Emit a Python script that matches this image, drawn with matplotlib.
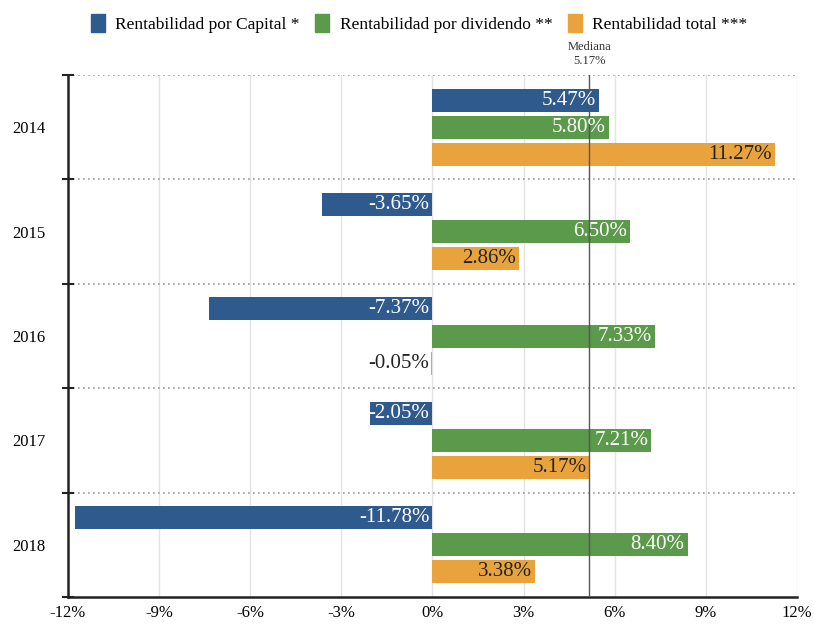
import matplotlib
matplotlib.use("Agg")
import matplotlib.pyplot as plt
import numpy as np
from matplotlib.patches import Patch
from matplotlib.ticker import FixedLocator

plt.rcParams['font.family'] = ['Liberation Serif', 'DejaVu Serif']

years = ["2014", "2015", "2016", "2017", "2018"]
capital = [5.47, -3.65, -7.37, -2.05, -11.78]
dividendo = [5.80, 6.50, 7.33, 7.21, 8.40]
total = [11.27, 2.86, -0.05, 5.17, 3.38]
series_names = ["Rentabilidad por Capital *", "Rentabilidad por dividendo **", "Rentabilidad total ***"]
colors = ["#2E5A8E", "#5B9A4A", "#E9A33C"]
label_colors = ["white", "white", "#222222"]
mediana = 5.17
xticks = [-12, -9, -6, -3, 0, 3, 6, 9, 12]

fig = plt.figure(figsize=(8.14, 6.26), dpi=100)
ax = fig.add_axes([0.0835, 0.0463, 0.8955, 0.8337])

y = np.arange(len(years))
h = 0.22
step = 0.26
for i, (vals, col, lc, name) in enumerate(zip([capital, dividendo, total], colors, label_colors, series_names)):
    pos = y + (i - 1) * step
    ax.barh(pos, vals, height=h, color=col, label=name, zorder=3)
    for p, v in zip(pos, vals):
        xr = max(v, 0)
        ax.text(xr - 0.1, p, f"{v:.2f}%", ha='right', va='center', color=lc,
                fontsize=15, zorder=5)

ax.set_xlim(-12, 12)
ax.set_ylim(4.5, -0.5)
ax.set_xticks(xticks)
ax.set_xticklabels([f"{t}%" for t in xticks], fontsize=12)
ax.set_yticks(y)
ax.set_yticklabels(years, fontsize=12)
ax.tick_params(axis='y', length=0, pad=16)
ax.tick_params(axis='x', length=0, pad=6)
ax.yaxis.set_minor_locator(FixedLocator([-0.5, 0.5, 1.5, 2.5, 3.5, 4.5]))
ax.tick_params(axis='y', which='minor', length=8, direction='inout', width=1.5, color='#222222')

for xv in xticks[1:]:
    ax.axvline(xv, color='#e3e3e3', lw=1, zorder=1)
for b in [-0.5, 0.5, 1.5, 2.5, 3.5]:
    ax.axhline(b, color='#999999', lw=1.2, ls=(0, (1, 2)), zorder=1)

ax.axvline(mediana, color='#555555', lw=1, zorder=4)
ax.annotate(f"Mediana\n{mediana:.2f}%", xy=(mediana, -0.5), xytext=(0, 6),
            textcoords='offset points', ha='center', va='bottom', fontsize=9,
            color='#333333', linespacing=1.25, annotation_clip=False)

for s in ['top', 'right']:
    ax.spines[s].set_visible(False)
ax.spines['left'].set_color('#222222')
ax.spines['left'].set_linewidth(1.8)
ax.spines['bottom'].set_color('#222222')
ax.spines['bottom'].set_linewidth(1.8)

handles = [Patch(color=c, label=n) for c, n in zip(colors, series_names)]
fig.legend(handles=handles, loc='upper center', bbox_to_anchor=(0.515, 1.003), ncol=3, frameon=False,
           fontsize=12.5, handlelength=0.8, handleheight=1.2, columnspacing=0.9, handletextpad=0.6)

fig.savefig("out.png", dpi=100)
